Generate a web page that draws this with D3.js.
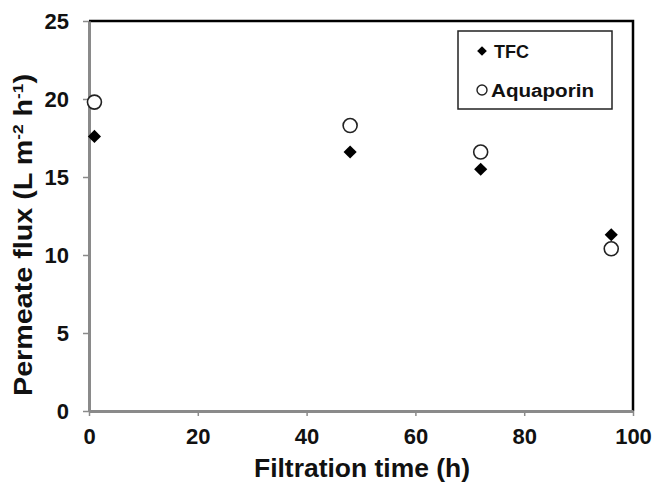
<!DOCTYPE html>
<html>
<head>
<meta charset="utf-8">
<script src="https://cdn.jsdelivr.net/npm/d3@7"></script>
<style>
  body { margin: 0; background: #fff; }
  svg { font-family: "Liberation Sans", Arial, sans-serif; font-weight: bold; }
</style>
</head>
<body>
<svg width="656" height="486"></svg>
<script>
// data
const times = [1, 48, 72, 96];
const tfc = [17.6, 16.6, 15.5, 11.3];
const aquaporin = [19.8, 18.3, 16.6, 10.4];
const xTicks = [0, 20, 40, 60, 80, 100];
const yTicks = [0, 5, 10, 15, 20, 25];

const svg = d3.select("svg");
const plotL = 89, plotR = 633, plotT = 21, plotB = 411;

const x = d3.scaleLinear().domain([0, 100]).range([plotL, plotR]);
const y = d3.scaleLinear().domain([0, 25]).range([plotB, plotT]);

// frame: top and right in black
svg.append("path")
  .attr("d", `M${plotL},${plotT}H${plotR}V${plotB}`)
  .attr("fill", "none")
  .attr("stroke", "#000")
  .attr("stroke-width", 2.5);

// axes in grey
let xAxis = svg.append("g")
  .attr("transform", `translate(0,${plotB})`)
  .call(d3.axisBottom(x).tickValues(xTicks).tickSize(5).tickSizeOuter(0).tickPadding(12));
let yAxis = svg.append("g")
  .attr("transform", `translate(${plotL},0)`)
  .call(d3.axisLeft(y).tickValues(yTicks).tickSize(6).tickSizeOuter(0).tickPadding(14));

[xAxis, yAxis].forEach(function (g) {
  g.attr("font-size", null).attr("font-family", null);
  g.select(".domain").attr("stroke", "#8a8a8a").attr("stroke-width", 3);
  g.selectAll(".tick line").attr("stroke", "#8a8a8a").attr("stroke-width", 1.5);
  g.selectAll(".tick text")
    .attr("fill", "#111")
    .style("font-size", "22px")
    .style("font-weight", "bold")
    .style("font-family", "'Liberation Sans', Arial, sans-serif");
});
yAxis.selectAll(".tick text").attr("dy", "0.36em");

// axis titles
svg.append("text")
  .attr("x", 362)
  .attr("y", 477)
  .attr("text-anchor", "middle")
  .attr("textLength", 216)
  .attr("lengthAdjust", "spacingAndGlyphs")
  .style("font-size", "26px")
  .attr("fill", "#111")
  .text("Filtration time (h)");

let yTitle = svg.append("text")
  .attr("transform", "translate(32,235) rotate(-90)")
  .attr("text-anchor", "middle")
  .attr("textLength", 322)
  .attr("lengthAdjust", "spacingAndGlyphs")
  .style("font-size", "25px")
  .attr("fill", "#111");
yTitle.append("tspan").text("Permeate flux (L m");
yTitle.append("tspan").attr("dy", -9).style("font-size", "15px").text("-2");
yTitle.append("tspan").attr("dy", 9).text(" h");
yTitle.append("tspan").attr("dy", -9).style("font-size", "15px").text("-1");
yTitle.append("tspan").attr("dy", 9).text(")");

// markers
const diamond = d3.symbol().type(d3.symbolDiamond2).size(110);
const tfcPts = times.map((t, i) => [t, tfc[i]]);
const aqPts = times.map((t, i) => [t, aquaporin[i]]);

svg.append("g").selectAll("path").data(tfcPts).enter().append("path")
  .attr("d", diamond)
  .attr("transform", d => `translate(${x(d[0])},${y(d[1])})`)
  .attr("fill", "#000");

svg.append("g").selectAll("circle").data(aqPts).enter().append("circle")
  .attr("cx", d => x(d[0]))
  .attr("cy", d => y(d[1]))
  .attr("r", 7)
  .attr("fill", "#fff")
  .attr("stroke", "#222")
  .attr("stroke-width", 1.6);

// legend
const legend = svg.append("g");
legend.append("rect")
  .attr("x", 458).attr("y", 31).attr("width", 154).attr("height", 78)
  .attr("fill", "#fff").attr("stroke", "#222").attr("stroke-width", 1.5);
legend.append("path")
  .attr("d", d3.symbol().type(d3.symbolDiamond2).size(60))
  .attr("transform", "translate(482,51)")
  .attr("fill", "#000");
legend.append("text")
  .attr("x", 494).attr("y", 58)
  .style("font-size", "18px").attr("fill", "#111")
  .text("TFC");
legend.append("circle")
  .attr("cx", 482).attr("cy", 90).attr("r", 5)
  .attr("fill", "#fff").attr("stroke", "#222").attr("stroke-width", 1.4);
legend.append("text")
  .attr("x", 491).attr("y", 97)
  .attr("textLength", 103)
  .attr("lengthAdjust", "spacingAndGlyphs")
  .style("font-size", "18px").attr("fill", "#111")
  .text("Aquaporin");
</script>
</body>
</html>
